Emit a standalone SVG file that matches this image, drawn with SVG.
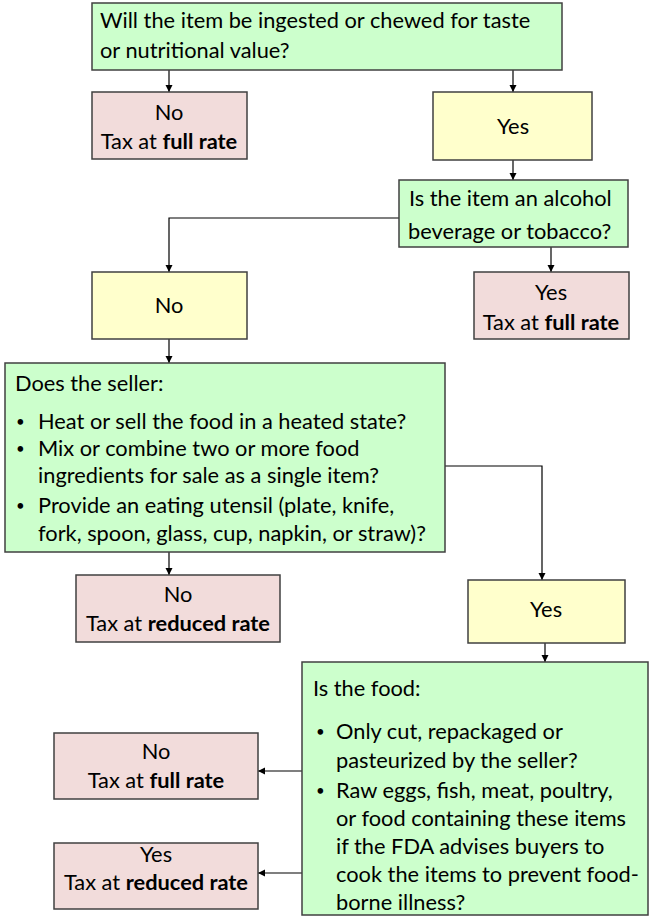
<svg xmlns="http://www.w3.org/2000/svg" width="650" height="917" viewBox="0 0 650 917">
<defs>
<marker id="arr" markerWidth="8" markerHeight="8" refX="7" refY="4" orient="auto" markerUnits="userSpaceOnUse">
<path d="M0,0.5 L7,4 L0,7.5 Z" fill="#000"/>
</marker>
<style>
rect{stroke:#404040;stroke-width:1.5}
.g{fill:#ccffcc}.y{fill:#ffffcc}.r{fill:#f2dcdb}
text{font-family:Lato,"Liberation Sans",sans-serif;font-size:21.8px;fill:#000}
.c{text-anchor:middle}
.b{font-weight:bold}
.d{font-size:15px}
.conn path{fill:none;stroke:#000;stroke-width:1.2;marker-end:url(#arr)}
</style>
</defs>
<rect width="650" height="917" fill="#fff" style="stroke:none"/>
<g class="conn" id="connectors">
<path d="M169,70 V92"/>
<path d="M513,70 V92"/>
<path d="M513,160 V180"/>
<path d="M399,218 H169 V272"/>
<path d="M551,247 V272"/>
<path d="M169,338 V363"/>
<path d="M445,466 H542 V580"/>
<path d="M169,552 V575"/>
<path d="M545,643 V662"/>
<path d="M302,771 H258"/>
<path d="M302,873 H258"/>
</g>
<g id="q1"><rect class="g" x="92" y="3" width="470" height="67"/>
<text x="100" y="28">Will the item be ingested or chewed for taste</text>
<text x="100" y="58">or nutritional value?</text></g>
<g id="no1"><rect class="r" x="92" y="92" width="155" height="67"/>
<text class="c" x="169" y="120">No</text>
<text class="c" x="169" y="149">Tax at <tspan class="b">full rate</tspan></text></g>
<g id="yes1"><rect class="y" x="433" y="92" width="159" height="68"/>
<text class="c" x="513" y="134">Yes</text></g>
<g id="q2"><rect class="g" x="399" y="180" width="229" height="67"/>
<text x="409" y="206">Is the item an alcohol</text>
<text x="408" y="239">beverage or tobacco?</text></g>
<g id="no2"><rect class="y" x="92" y="272" width="155" height="67"/>
<text class="c" x="169" y="313">No</text></g>
<g id="yes2"><rect class="r" x="474" y="272" width="155" height="67"/>
<text class="c" x="551" y="300">Yes</text>
<text class="c" x="551" y="330">Tax at <tspan class="b">full rate</tspan></text></g>
<g id="q3"><rect class="g" x="5" y="363" width="440" height="189"/>
<text x="15" y="391">Does the seller:</text>
<text class="d" x="16" y="427">•</text><text x="38" y="429">Heat or sell the food in a heated state?</text>
<text class="d" x="16" y="454">•</text><text x="38" y="456">Mix or combine two or more food</text>
<text x="38" y="483">ingredients for sale as a single item?</text>
<text class="d" x="16" y="511">•</text><text x="38" y="513">Provide an eating utensil (plate, knife,</text>
<text x="38" y="541">fork, spoon, glass, cup, napkin, or straw)?</text></g>
<g id="no3"><rect class="r" x="76" y="575" width="204" height="67"/>
<text class="c" x="178" y="602">No</text>
<text class="c" x="178" y="631">Tax at <tspan class="b">reduced rate</tspan></text></g>
<g id="yes3"><rect class="y" x="468" y="580" width="157" height="63"/>
<text class="c" x="546" y="617">Yes</text></g>
<g id="q4"><rect class="g" x="302" y="662" width="346" height="253"/>
<text x="313" y="696">Is the food:</text>
<text class="d" x="316" y="737">•</text><text x="336" y="739">Only cut, repackaged or</text>
<text x="336" y="768">pasteurized by the seller?</text>
<text class="d" x="316" y="796">•</text><text x="336" y="798">Raw eggs, fish, meat, poultry,</text>
<text x="336" y="826">or food containing these items</text>
<text x="336" y="854">if the FDA advises buyers to</text>
<text x="336" y="882">cook the items to prevent food-</text>
<text x="336" y="910">borne illness?</text></g>
<g id="no4"><rect class="r" x="54" y="733" width="204" height="66"/>
<text class="c" x="156" y="759">No</text>
<text class="c" x="156" y="788">Tax at <tspan class="b">full rate</tspan></text></g>
<g id="yes4"><rect class="r" x="54" y="843" width="204" height="66"/>
<text class="c" x="156" y="862">Yes</text>
<text class="c" x="156" y="890">Tax at <tspan class="b">reduced rate</tspan></text></g>
</svg>
